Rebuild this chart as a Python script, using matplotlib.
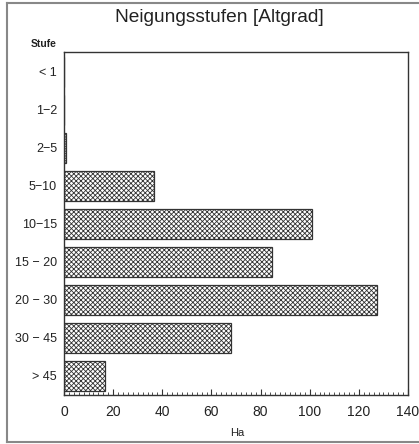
import matplotlib
matplotlib.use("Agg")
import matplotlib.pyplot as plt
from matplotlib.lines import Line2D
from matplotlib.ticker import MultipleLocator

# Slope classes (degrees) and area per class (hectares)
stufen = ["< 1", "1\u22122", "2\u22125", "5\u221210", "10\u221215",
          "15 \u2212 20", "20 \u2212 30", "30 \u2212 45", "> 45"]
flaeche_ha = [0, 0, 1, 36.5, 101, 84.5, 127.5, 68, 16.5]
x_ticks = [0, 20, 40, 60, 80, 100, 120, 140]

plt.rcParams["font.family"] = ["Liberation Sans", "DejaVu Sans"]
plt.rcParams["hatch.linewidth"] = 0.6
plt.rcParams["hatch.color"] = "#444444"

W, H = 419, 444
fig = plt.figure(figsize=(W / 100, H / 100), dpi=100)
fig.patch.set_facecolor("white")

ax = fig.add_axes([64 / W, 1 - 395 / H, (408 - 64) / W, (395 - 52) / H])

pos = list(range(len(stufen)))
ax.barh(pos, flaeche_ha, height=0.78, color="white", edgecolor="#333333",
        linewidth=0.9, hatch="xxxxxxx")

ax.set_ylim(8.5, -0.52)
ax.set_xlim(0, 140)
ax.set_yticks(pos)
ax.set_yticklabels(stufen, fontsize=9, color="#222222")
ax.set_xticks(x_ticks)
ax.set_xticklabels([str(t) for t in x_ticks], fontsize=10, color="#222222")
ax.xaxis.set_minor_locator(MultipleLocator(2))
ax.tick_params(axis="y", length=0, pad=5)
ax.tick_params(axis="x", which="major", direction="in", length=4,
               width=0.8, color="#333333", pad=7)
ax.tick_params(axis="x", which="minor", direction="in", length=2,
               width=0.6, color="#333333")
for sp in ax.spines.values():
    sp.set_color("#333333")
    sp.set_linewidth(1.0)

fig.text(219 / W, 1 - 18 / H, "Neigungsstufen [Altgrad]", ha="center",
         va="center", fontsize=13.8, color="#222222")
fig.text(44 / W, 1 - 44 / H, "Stufe", ha="center", va="center",
         fontsize=7.5, fontweight="bold", color="#222222")
fig.text(237 / W, 1 - 433 / H, "Ha", ha="center", va="center",
         fontsize=8, color="#222222")

# Outer frame around the panel
frame_kw = dict(color="#888888", linewidth=1.5, transform=fig.transFigure)
fig.add_artist(Line2D([7 / W, 7 / W], [1 - 3 / H, 1 - 442 / H], **frame_kw))
fig.add_artist(Line2D([7 / W, 1.0], [1 - 3 / H, 1 - 3 / H], **frame_kw))
fig.add_artist(Line2D([7 / W, 1.0], [1 - 442 / H, 1 - 442 / H], **frame_kw))

fig.savefig("out.png", dpi=100, facecolor="white")
